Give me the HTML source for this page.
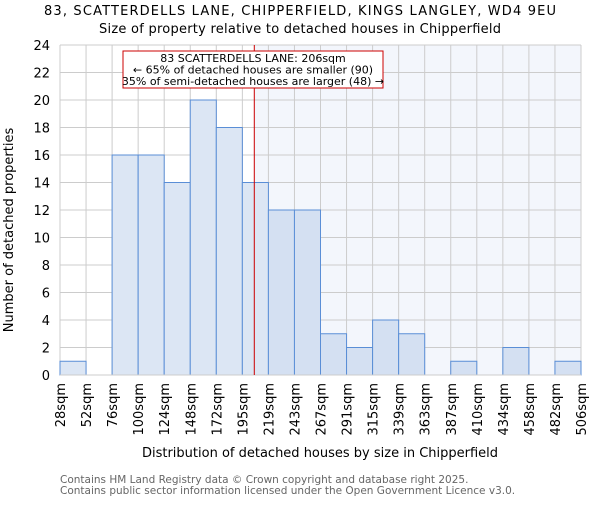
<!DOCTYPE html>
<html><head><meta charset="utf-8"><style>body{margin:0;background:#fff}svg{font-family:"DejaVu Sans","Liberation Sans",sans-serif}</style></head>
<body>
<svg width="600" height="500" id="c">
<text x="300" y="15" text-anchor="middle" font-size="13" textLength="512">83, SCATTERDELLS LANE, CHIPPERFIELD, KINGS LANGLEY, WD4 9EU</text>
<text x="300" y="33" text-anchor="middle" font-size="13" textLength="402">Size of property relative to detached houses in Chipperfield</text>
<g id="plot"></g>
<text transform="translate(13,230) rotate(-90)" text-anchor="middle" font-size="13">Number of detached properties</text>
<text x="320" y="457" text-anchor="middle" font-size="13">Distribution of detached houses by size in Chipperfield</text>
<text x="60" y="483" font-size="10.5" fill="#666">Contains HM Land Registry data © Crown copyright and database right 2025.</text>
<text x="60" y="494" font-size="10.5" fill="#666">Contains public sector information licensed under the Open Government Licence v3.0.</text>
</svg>
<script>
const binEdges=[28,52,76,100,124,148,172,195,219,243,267,291,315,339,363,387,410,434,458,482,506];
const tickLabels=["28sqm","52sqm","76sqm","100sqm","124sqm","148sqm","172sqm","195sqm","219sqm","243sqm","267sqm","291sqm","315sqm","339sqm","363sqm","387sqm","410sqm","434sqm","458sqm","482sqm","506sqm"];
const counts=[1,0,16,16,14,20,18,14,12,12,3,2,4,3,0,1,0,2,0,1];
const yTicks=[0,2,4,6,8,10,12,14,16,18,20,22,24];
const propertySize=206;
const NS="http://www.w3.org/2000/svg";
const L=60,R=581,T=45,B=375,yMax=24;
const n=counts.length,bw=(R-L)/n;
const xi=i=>L+i*bw;
const xv=v=>{for(let i=0;i<binEdges.length-1;i++){if(v<=binEdges[i+1])return xi(i)+(v-binEdges[i])/(binEdges[i+1]-binEdges[i])*bw;}return R;};
const y=v=>B-(v/yMax)*(B-T);
const g=document.getElementById('plot');
function mk(t,a){const e=document.createElementNS(NS,t);for(const k in a)e.setAttribute(k,a[k]);g.appendChild(e);return e;}
const px=xv(propertySize);
let e=mk('rect',{x:px,y:T,width:R-px,height:B-T,fill:'#f3f6fc'});


yTicks.forEach(t=>{let l=mk('line',{x1:L,x2:R,y1:y(t),y2:y(t),stroke:'#ccc','stroke-width':1});


let tx=mk('text',{x:L-10,y:y(t)+5,'text-anchor':'end','font-size':13});tx.textContent=t;

});
binEdges.forEach((b,i)=>{let l=mk('line',{x1:xi(i),x2:xi(i),y1:T,y2:B,stroke:'#ccc','stroke-width':1});


let tx=mk('text',{transform:`translate(${xi(i)+5},${B+8}) rotate(-90)`,'text-anchor':'end','font-size':13});tx.textContent=tickLabels[i];

});
counts.forEach((c,i)=>{if(c<=0)return;let r=mk('rect',{x:xi(i),y:y(c),width:bw,height:B-y(c),fill:xi(i)>=px?'#d4e0f2':'#dce6f4',stroke:'#5a8ed6','stroke-width':1});

});
e=mk('line',{x1:L,x2:R,y1:B,y2:B,stroke:'#ccc'});


e=mk('line',{x1:px,x2:px,y1:T,y2:B,stroke:'#cc0000','stroke-width':1});


e=mk('rect',{x:123,y:51,width:260,height:37,fill:'#fff',stroke:'#cc0000','stroke-width':1});


["83 SCATTERDELLS LANE: 206sqm","← 65% of detached houses are smaller (90)","35% of semi-detached houses are larger (48) →"].forEach((s,i)=>{let t=mk('text',{x:253,y:62+i*11.5,'text-anchor':'middle','font-size':11});t.textContent=s;

});
</script>
</body></html>
